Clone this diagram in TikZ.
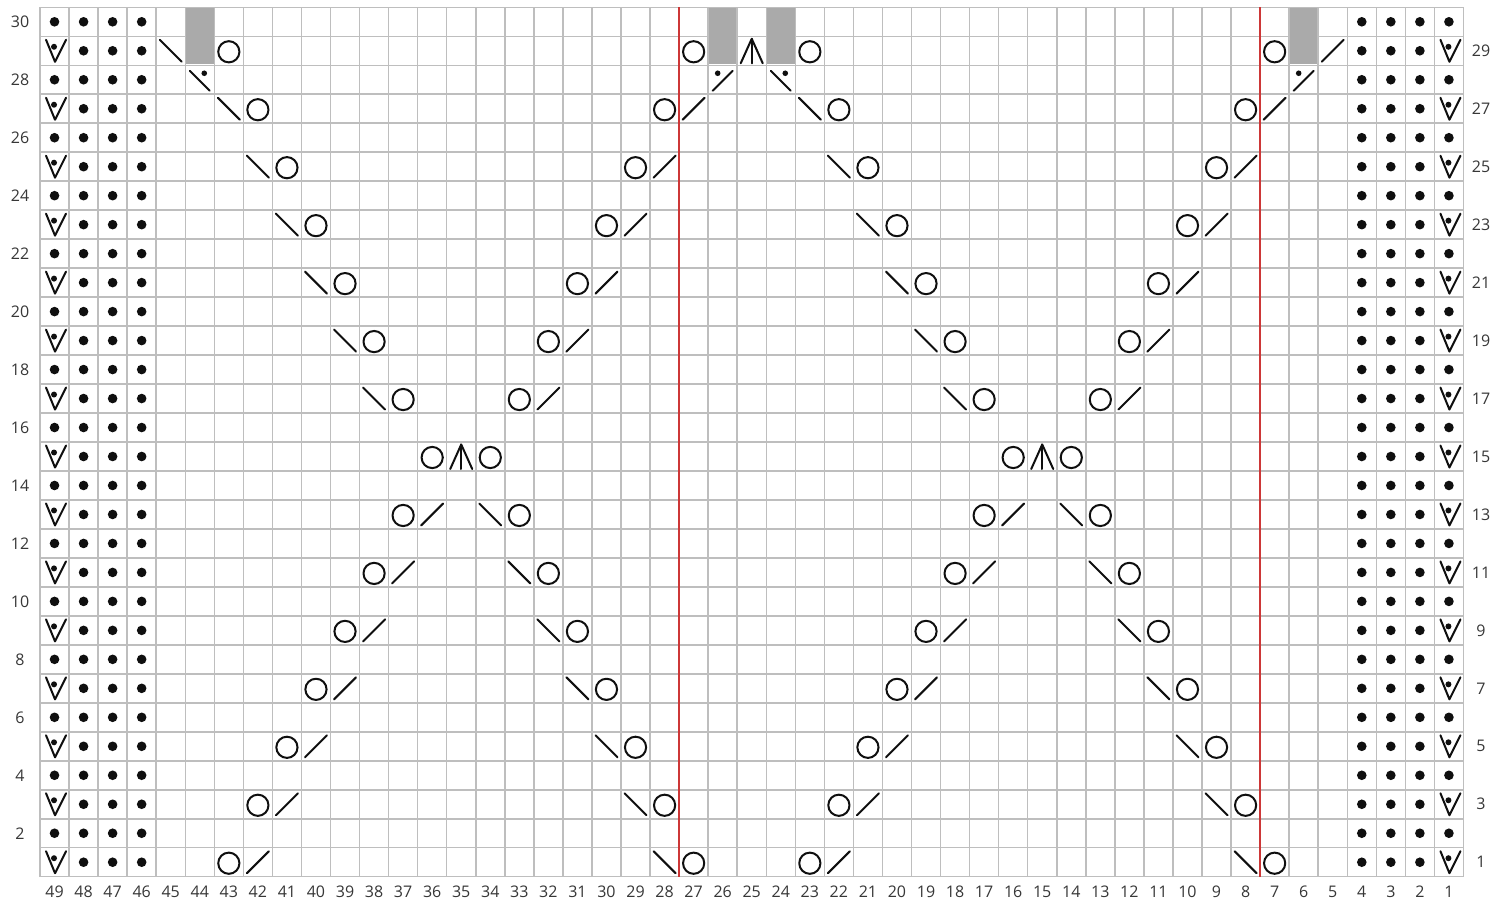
\documentclass[tikz,border=0pt]{standalone}
\usepackage{fontspec}
\setmainfont{Open Sans}
\definecolor{gridgray}{RGB}{190,190,190}
\definecolor{cellgray}{RGB}{170,170,170}
\definecolor{redline}{RGB}{205,55,55}
\definecolor{labelgray}{RGB}{55,55,55}
\definecolor{ink}{RGB}{15,15,15}
\newcommand\Sym[3]{\pic at ({40+(49.5-(#2))*29.05},{7.3+(30.5-(#3))*28.98}) {#1};}
\begin{document}
\begin{tikzpicture}[x=1pt,y=-1pt,
  gridline/.style={draw=gridgray,line width=1.5pt},
  sym/.style={draw=ink,line width=2pt,line cap=round,line join=round},
  lbl/.style={text=labelgray,font=\fontsize{16}{19}\selectfont,inner sep=0pt},
  yo/.pic={\draw[sym] (0,1) circle (10.6pt);},
  ktwo/.pic={\draw[sym] (-11,11) -- (11,-11);},
  ssk/.pic={\draw[sym] (-11,-11) -- (11,11);},
  dk/.pic={\draw[sym] (-11,12.5) -- (0,-12) -- (11,12.5); \draw[sym] (0,-12) -- (0,12.5);},
  pdot/.pic={\fill[ink] (0,0) circle (4.8pt);},
  vdot/.pic={\draw[sym] (-8.5,-11) -- (0.5,11) -- (11.5,-11); \fill[ink] (-0.5,-4) circle (3pt);},
  sskdot/.pic={\draw[sym] (-10,-9) -- (10,11); \fill[ink] (4.5,-6.5) circle (2.8pt);},
  ktwodot/.pic={\draw[sym] (-10,11) -- (10,-9); \fill[ink] (-5,-6.5) circle (2.8pt);}
]
\useasboundingbox (0,0) rectangle (1506,903);
\fill[white] (0,0) rectangle (1506,903);
% grid
\foreach \i in {0,...,49} \draw[gridline] ({40+\i*29.05},7.3) -- ({40+\i*29.05},876.7);
\foreach \j in {0,...,30} \draw[gridline] (40,{7.3+\j*28.98}) -- (1463.45,{7.3+\j*28.98});
% gray no-stitch cells (cols 44,26,24,6 ; rows 29-30)
\foreach \c in {44,26,24,6}
  \fill[cellgray] ({40+(49-\c)*29.05+0.8},8.1) rectangle ({40+(50-\c)*29.05-0.8},{7.3+2*28.98-0.8});
% red repeat lines
\draw[redline,line width=1.6pt] ({40+22*29.05},7.3) -- ({40+22*29.05},876.7);
\draw[redline,line width=1.6pt] ({40+42*29.05},7.3) -- ({40+42*29.05},876.7);
% edge stitches
\foreach \rr in {1,...,30} {
  \foreach \c in {46,47,48,2,3,4} {\Sym{pdot}{\c}{\rr}}
}
\foreach \rr in {2,4,...,30} {\Sym{pdot}{49}{\rr}\Sym{pdot}{1}{\rr}}
\foreach \rr in {1,3,...,29} {\Sym{vdot}{49}{\rr}\Sym{vdot}{1}{\rr}}
% lower diamonds rows 1-13
\foreach \k in {0,...,6} {
  \pgfmathtruncatemacro\rr{2*\k+1}
  \Sym{yo}{43-\k}{\rr}\Sym{ktwo}{42-\k}{\rr}
  \Sym{ssk}{28+\k}{\rr}\Sym{yo}{27+\k}{\rr}
  \Sym{yo}{23-\k}{\rr}\Sym{ktwo}{22-\k}{\rr}
  \Sym{ssk}{8+\k}{\rr}\Sym{yo}{7+\k}{\rr}
}
% row 15
\Sym{yo}{36}{15}\Sym{dk}{35}{15}\Sym{yo}{34}{15}
\Sym{yo}{16}{15}\Sym{dk}{15}{15}\Sym{yo}{14}{15}
% upper rows 17-27
\foreach \m in {0,...,5} {
  \pgfmathtruncatemacro\rr{17+2*\m}
  \Sym{ssk}{38+\m}{\rr}\Sym{yo}{37+\m}{\rr}
  \Sym{yo}{33-\m}{\rr}\Sym{ktwo}{32-\m}{\rr}
  \Sym{ssk}{18+\m}{\rr}\Sym{yo}{17+\m}{\rr}
  \Sym{yo}{13-\m}{\rr}\Sym{ktwo}{12-\m}{\rr}
}
% row 28
\Sym{sskdot}{44}{28}\Sym{ktwodot}{26}{28}\Sym{sskdot}{24}{28}\Sym{ktwodot}{6}{28}
% row 29
\Sym{ssk}{45}{29}\Sym{yo}{43}{29}\Sym{yo}{27}{29}\Sym{dk}{25}{29}\Sym{yo}{23}{29}\Sym{yo}{7}{29}\Sym{ktwo}{5}{29}
% row labels
\foreach \rr in {2,4,...,30} \node[lbl] (rl\rr) at (20,{7.3+(30.5-\rr)*28.98}) {\rr};
\foreach \rr in {1,3,...,29} \node[lbl] (rr\rr) at (1481,{7.3+(30.5-\rr)*28.98}) {\rr};
% column labels
\foreach \c in {1,...,49} \node[lbl] (cl\c) at ({40+(49.5-\c)*29.05},892) {\c};
\end{tikzpicture}
\end{document}
